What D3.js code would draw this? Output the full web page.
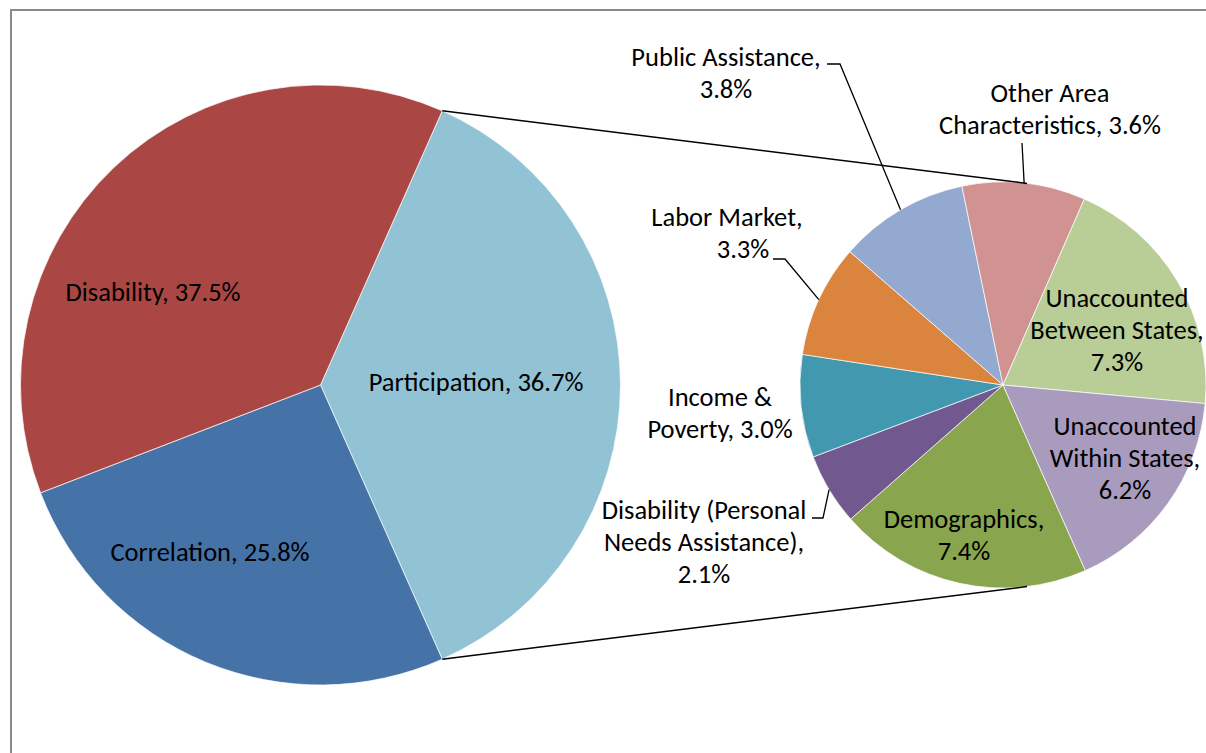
<!DOCTYPE html>
<html>
<head>
<meta charset="utf-8">
<script src="https://cdn.jsdelivr.net/npm/d3@7"></script>
<style>
  body { margin: 0; background: #fff; }
  svg { display: block; }
  text { font-family: Carlito, Lato, "Liberation Sans", sans-serif; fill: #000; }
</style>
</head>
<body>
<svg id="chart" width="1206" height="753"></svg>
<script>
// Primary pie: the "Participation" share is broken out in the secondary pie.
const mainCategories = ["Participation", "Correlation", "Disability"];
const mainValues = [36.7, 25.8, 37.5];
const mainColors = ["#92C3D4", "#4572A7", "#AA4643"];
const mainLabelLines = [["Participation, {v}"], ["Correlation, {v}"], ["Disability, {v}"]];

// Secondary pie: components of Participation.
const subCategories = [
  "Demographics", "Disability (Personal Needs Assistance)", "Income & Poverty",
  "Labor Market", "Public Assistance", "Other Area Characteristics",
  "Unaccounted Between States", "Unaccounted Within States"
];
const subValues = [7.4, 2.1, 3.0, 3.3, 3.8, 3.6, 7.3, 6.2];
const subColors = ["#89A54E", "#71588F", "#4198AF", "#DB843D", "#93A9CF", "#D19392", "#B9CD96", "#A99BBD"];
const subLabelLines = [
  ["Demographics,", "{v}"],
  ["Disability (Personal", "Needs Assistance),", "{v}"],
  ["Income &", "Poverty, {v}"],
  ["Labor Market,", "{v}"],
  ["Public Assistance,", "{v}"],
  ["Other Area", "Characteristics, {v}"],
  ["Unaccounted", "Between States,", "{v}"],
  ["Unaccounted", "Within States,", "{v}"]
];

// ---- layout ----
const W = 1206, H = 753;
const mainPie = { cx: 320.5, cy: 385, r: 300 };
const subPie = { cx: 1003, cy: 385, r: 203 };
const lineHeight = 32;
const fontSize = 26.5;
// label anchors: centre x, first baseline y
const mainLabelPos = [[476, 391], [210, 561], [153, 301]];
const subLabelPos = [[964, 528], [704, 519], [720, 406], [727, 226], [726, 66], [1050, 102], [1117, 307], [1125, 435]];
// per-line horizontal nudges for individual labels
const subLineDx = { 3: [0, 16] };
// leader line start points (label side) for the labels placed outside the pie
const leaderStarts = {
  1: [[812, 518], [823, 518]],
  3: [[773, 259], [785, 259]],
  4: [[827, 64], [840, 64]],
  5: [[1022, 143]]
};
const connectorOffset = 6.8 * Math.PI / 180;

const fmt = v => d3.format(".1f")(v) + "%";
const svg = d3.select("#chart");

// chart frame
svg.append("rect")
  .attr("x", 11).attr("y", 10)
  .attr("width", W + 20).attr("height", H + 20)
  .attr("fill", "none").attr("stroke", "#898989").attr("stroke-width", 2);

// primary pie, "Participation" centred on the right-hand side
const total = d3.sum(mainValues);
const partFrac = mainValues[0] / total;
const mainStart = Math.PI / 2 - partFrac * Math.PI;
const mainArcs = d3.pie().sort(null).value(d => d)
  .startAngle(mainStart).endAngle(mainStart + 2 * Math.PI)(mainValues);
const mainArc = d3.arc().innerRadius(0).outerRadius(mainPie.r);

const gMain = svg.append("g").attr("transform", `translate(${mainPie.cx},${mainPie.cy})`);
gMain.selectAll("path").data(mainArcs).join("path")
  .attr("d", mainArc)
  .attr("fill", (d, i) => mainColors[i])
  .attr("stroke", "#fff").attr("stroke-width", 0.7);

// secondary pie, starting where the Participation slice ends
const subStart = Math.PI / 2 + partFrac * Math.PI;
const subArcs = d3.pie().sort(null).value(d => d)
  .startAngle(subStart).endAngle(subStart + 2 * Math.PI)(subValues);
const subArc = d3.arc().innerRadius(0).outerRadius(subPie.r);

const gSub = svg.append("g").attr("transform", `translate(${subPie.cx},${subPie.cy})`);
gSub.selectAll("path").data(subArcs).join("path")
  .attr("d", subArc)
  .attr("fill", (d, i) => subColors[i])
  .attr("stroke", "#fff").attr("stroke-width", 0.7);

// connector lines between the pies
const polar = (c, r, a) => [c.cx + r * Math.sin(a), c.cy - r * Math.cos(a)];
const pArc = mainArcs[0];
const conn = [
  [polar(mainPie, mainPie.r, pArc.startAngle), polar(subPie, subPie.r, connectorOffset)],
  [polar(mainPie, mainPie.r, pArc.endAngle), polar(subPie, subPie.r, Math.PI - connectorOffset)]
];
svg.selectAll("line.connector").data(conn).join("line")
  .attr("class", "connector")
  .attr("x1", d => d[0][0]).attr("y1", d => d[0][1])
  .attr("x2", d => d[1][0]).attr("y2", d => d[1][1])
  .attr("stroke", "#000").attr("stroke-width", 1.5);

// leader lines to the slice midpoints
Object.entries(leaderStarts).forEach(([k, pts]) => {
  const a = subArcs[+k];
  const mid = (a.startAngle + a.endAngle) / 2;
  const end = polar(subPie, subPie.r, mid);
  svg.append("path")
    .attr("d", d3.line()([...pts, end]))
    .attr("fill", "none").attr("stroke", "#000").attr("stroke-width", 1.3);
});

// data labels
function drawLabel(lines, value, pos, dx) {
  const t = svg.append("text")
    .attr("text-anchor", "middle")
    .attr("font-size", fontSize);
  lines.forEach((ln, j) => {
    t.append("tspan")
      .attr("x", pos[0] + (dx ? dx[j] : 0))
      .attr("y", pos[1] + j * lineHeight)
      .text(ln.replace("{v}", fmt(value)));
  });
}
mainValues.forEach((v, i) => drawLabel(mainLabelLines[i], v, mainLabelPos[i]));
subValues.forEach((v, i) => drawLabel(subLabelLines[i], v, subLabelPos[i], subLineDx[i]));
</script>
</body>
</html>
